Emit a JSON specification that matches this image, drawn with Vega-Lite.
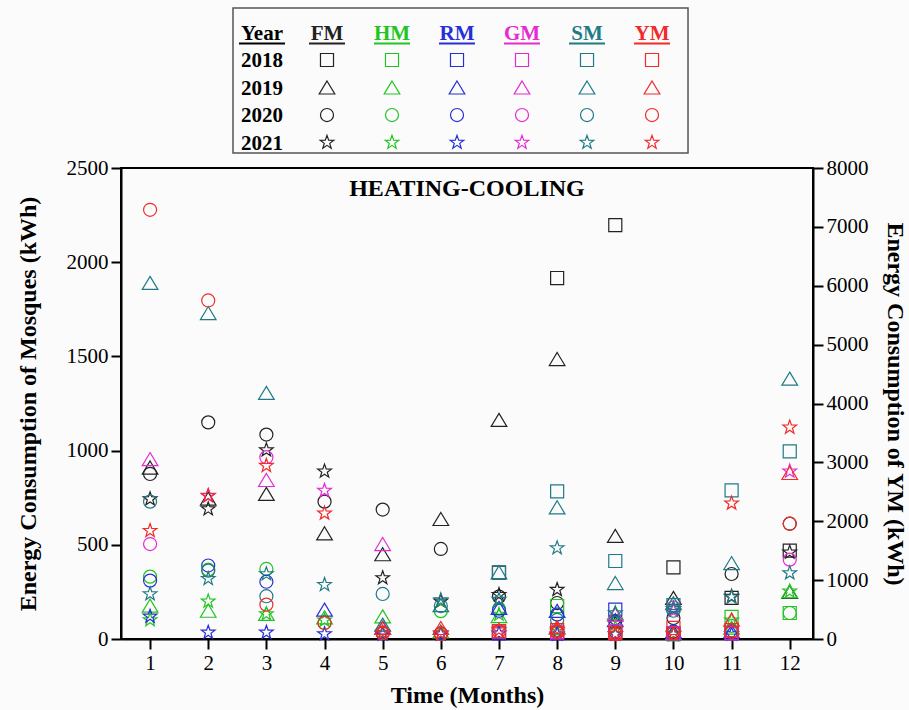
{
  "$schema": "https://vega.github.io/schema/vega-lite/v6.json",
  "background": "#fbfbfb",
  "padding": {"top": 6, "left": 15, "right": 4, "bottom": 2},
  "spacing": 1,
  "config": {
    "font": "Liberation Serif",
    "axis": {"grid": false, "labelFont": "Liberation Serif", "titleFont": "Liberation Serif", "labelFontSize": 21, "titleFontSize": 24, "titleFontWeight": "bold", "labelColor": "black", "titleColor": "black", "domainColor": "black", "domainWidth": 2, "tickColor": "black", "tickWidth": 2}
  },
  "data": {"values": [
    {"month":7,"mosque":"FM","year":"2018","kwh":352},{"month":8,"mosque":"FM","year":"2018","kwh":1916},{"month":9,"mosque":"FM","year":"2018","kwh":2197},{"month":10,"mosque":"FM","year":"2018","kwh":380},{"month":11,"mosque":"FM","year":"2018","kwh":218},{"month":12,"mosque":"FM","year":"2018","kwh":469},
    {"month":1,"mosque":"FM","year":"2019","kwh":910},{"month":2,"mosque":"FM","year":"2019","kwh":745},{"month":3,"mosque":"FM","year":"2019","kwh":770},{"month":4,"mosque":"FM","year":"2019","kwh":561},{"month":5,"mosque":"FM","year":"2019","kwh":450},{"month":6,"mosque":"FM","year":"2019","kwh":637},{"month":7,"mosque":"FM","year":"2019","kwh":1163},{"month":8,"mosque":"FM","year":"2019","kwh":1486},{"month":9,"mosque":"FM","year":"2019","kwh":547},{"month":10,"mosque":"FM","year":"2019","kwh":218},{"month":12,"mosque":"FM","year":"2019","kwh":250},
    {"month":1,"mosque":"FM","year":"2020","kwh":876},{"month":2,"mosque":"FM","year":"2020","kwh":1150},{"month":3,"mosque":"FM","year":"2020","kwh":1085},{"month":4,"mosque":"FM","year":"2020","kwh":729},{"month":5,"mosque":"FM","year":"2020","kwh":687},{"month":6,"mosque":"FM","year":"2020","kwh":478},{"month":7,"mosque":"FM","year":"2020","kwh":225},{"month":8,"mosque":"FM","year":"2020","kwh":191},{"month":9,"mosque":"FM","year":"2020","kwh":95},{"month":10,"mosque":"FM","year":"2020","kwh":111},{"month":11,"mosque":"FM","year":"2020","kwh":345},{"month":12,"mosque":"FM","year":"2020","kwh":612},
    {"month":1,"mosque":"FM","year":"2021","kwh":743},{"month":2,"mosque":"FM","year":"2021","kwh":690},{"month":3,"mosque":"FM","year":"2021","kwh":1003},{"month":4,"mosque":"FM","year":"2021","kwh":890},{"month":5,"mosque":"FM","year":"2021","kwh":324},{"month":6,"mosque":"FM","year":"2021","kwh":200},{"month":7,"mosque":"FM","year":"2021","kwh":235},{"month":8,"mosque":"FM","year":"2021","kwh":262},{"month":9,"mosque":"FM","year":"2021","kwh":85},{"month":10,"mosque":"FM","year":"2021","kwh":160},{"month":11,"mosque":"FM","year":"2021","kwh":225},{"month":12,"mosque":"FM","year":"2021","kwh":460},
    {"month":7,"mosque":"HM","year":"2018","kwh":40},{"month":8,"mosque":"HM","year":"2018","kwh":175},{"month":9,"mosque":"HM","year":"2018","kwh":40},{"month":10,"mosque":"HM","year":"2018","kwh":25},{"month":11,"mosque":"HM","year":"2018","kwh":117},{"month":12,"mosque":"HM","year":"2018","kwh":138},
    {"month":1,"mosque":"HM","year":"2019","kwh":177},{"month":2,"mosque":"HM","year":"2019","kwh":150},{"month":3,"mosque":"HM","year":"2019","kwh":133},{"month":4,"mosque":"HM","year":"2019","kwh":115},{"month":5,"mosque":"HM","year":"2019","kwh":120},{"month":6,"mosque":"HM","year":"2019","kwh":40},{"month":7,"mosque":"HM","year":"2019","kwh":122},{"month":8,"mosque":"HM","year":"2019","kwh":60},{"month":9,"mosque":"HM","year":"2019","kwh":138},{"month":10,"mosque":"HM","year":"2019","kwh":30},{"month":11,"mosque":"HM","year":"2019","kwh":60},{"month":12,"mosque":"HM","year":"2019","kwh":253},
    {"month":1,"mosque":"HM","year":"2020","kwh":331},{"month":2,"mosque":"HM","year":"2020","kwh":368},{"month":3,"mosque":"HM","year":"2020","kwh":372},{"month":4,"mosque":"HM","year":"2020","kwh":85},{"month":5,"mosque":"HM","year":"2020","kwh":35},{"month":6,"mosque":"HM","year":"2020","kwh":148},{"month":7,"mosque":"HM","year":"2020","kwh":160},{"month":8,"mosque":"HM","year":"2020","kwh":130},{"month":9,"mosque":"HM","year":"2020","kwh":40},{"month":10,"mosque":"HM","year":"2020","kwh":30},{"month":11,"mosque":"HM","year":"2020","kwh":70},{"month":12,"mosque":"HM","year":"2020","kwh":138},
    {"month":1,"mosque":"HM","year":"2021","kwh":101},{"month":2,"mosque":"HM","year":"2021","kwh":200},{"month":3,"mosque":"HM","year":"2021","kwh":133},{"month":4,"mosque":"HM","year":"2021","kwh":100},{"month":5,"mosque":"HM","year":"2021","kwh":30},{"month":6,"mosque":"HM","year":"2021","kwh":30},{"month":7,"mosque":"HM","year":"2021","kwh":130},{"month":8,"mosque":"HM","year":"2021","kwh":40},{"month":9,"mosque":"HM","year":"2021","kwh":60},{"month":10,"mosque":"HM","year":"2021","kwh":30},{"month":11,"mosque":"HM","year":"2021","kwh":100},{"month":12,"mosque":"HM","year":"2021","kwh":253},
    {"month":7,"mosque":"RM","year":"2018","kwh":30},{"month":8,"mosque":"RM","year":"2018","kwh":30},{"month":9,"mosque":"RM","year":"2018","kwh":156},{"month":10,"mosque":"RM","year":"2018","kwh":30},{"month":11,"mosque":"RM","year":"2018","kwh":30},
    {"month":4,"mosque":"RM","year":"2019","kwh":156},{"month":5,"mosque":"RM","year":"2019","kwh":60},{"month":7,"mosque":"RM","year":"2019","kwh":165},{"month":8,"mosque":"RM","year":"2019","kwh":149},{"month":9,"mosque":"RM","year":"2019","kwh":100},{"month":10,"mosque":"RM","year":"2019","kwh":40},{"month":11,"mosque":"RM","year":"2019","kwh":40},
    {"month":1,"mosque":"RM","year":"2020","kwh":310},{"month":2,"mosque":"RM","year":"2020","kwh":390},{"month":3,"mosque":"RM","year":"2020","kwh":304},{"month":5,"mosque":"RM","year":"2020","kwh":30},{"month":6,"mosque":"RM","year":"2020","kwh":30},{"month":7,"mosque":"RM","year":"2020","kwh":150},{"month":8,"mosque":"RM","year":"2020","kwh":130},{"month":9,"mosque":"RM","year":"2020","kwh":40},{"month":10,"mosque":"RM","year":"2020","kwh":40},{"month":11,"mosque":"RM","year":"2020","kwh":40},
    {"month":1,"mosque":"RM","year":"2021","kwh":120},{"month":2,"mosque":"RM","year":"2021","kwh":35},{"month":3,"mosque":"RM","year":"2021","kwh":35},{"month":4,"mosque":"RM","year":"2021","kwh":27},{"month":5,"mosque":"RM","year":"2021","kwh":25},{"month":6,"mosque":"RM","year":"2021","kwh":25},{"month":7,"mosque":"RM","year":"2021","kwh":30},{"month":8,"mosque":"RM","year":"2021","kwh":25},{"month":9,"mosque":"RM","year":"2021","kwh":25},{"month":10,"mosque":"RM","year":"2021","kwh":25},{"month":11,"mosque":"RM","year":"2021","kwh":26},
    {"month":7,"mosque":"GM","year":"2018","kwh":40},{"month":8,"mosque":"GM","year":"2018","kwh":35},{"month":9,"mosque":"GM","year":"2018","kwh":40},{"month":10,"mosque":"GM","year":"2018","kwh":30},{"month":11,"mosque":"GM","year":"2018","kwh":30},
    {"month":1,"mosque":"GM","year":"2019","kwh":955},{"month":3,"mosque":"GM","year":"2019","kwh":844},{"month":5,"mosque":"GM","year":"2019","kwh":504},{"month":9,"mosque":"GM","year":"2019","kwh":130},
    {"month":1,"mosque":"GM","year":"2020","kwh":504},{"month":3,"mosque":"GM","year":"2020","kwh":965},{"month":10,"mosque":"GM","year":"2020","kwh":168},{"month":12,"mosque":"GM","year":"2020","kwh":421},
    {"month":2,"mosque":"GM","year":"2021","kwh":761},{"month":4,"mosque":"GM","year":"2021","kwh":788},{"month":10,"mosque":"GM","year":"2021","kwh":150},{"month":12,"mosque":"GM","year":"2021","kwh":890},
    {"month":7,"mosque":"SM","year":"2018","kwh":354},{"month":8,"mosque":"SM","year":"2018","kwh":784},{"month":9,"mosque":"SM","year":"2018","kwh":414},{"month":10,"mosque":"SM","year":"2018","kwh":180},{"month":11,"mosque":"SM","year":"2018","kwh":789},{"month":12,"mosque":"SM","year":"2018","kwh":996},
    {"month":1,"mosque":"SM","year":"2019","kwh":1890},{"month":2,"mosque":"SM","year":"2019","kwh":1730},{"month":3,"mosque":"SM","year":"2019","kwh":1306},{"month":5,"mosque":"SM","year":"2019","kwh":76},{"month":6,"mosque":"SM","year":"2019","kwh":180},{"month":7,"mosque":"SM","year":"2019","kwh":354},{"month":8,"mosque":"SM","year":"2019","kwh":699},{"month":9,"mosque":"SM","year":"2019","kwh":297},{"month":10,"mosque":"SM","year":"2019","kwh":190},{"month":11,"mosque":"SM","year":"2019","kwh":403},{"month":12,"mosque":"SM","year":"2019","kwh":1382},
    {"month":1,"mosque":"SM","year":"2020","kwh":729},{"month":2,"mosque":"SM","year":"2020","kwh":363},{"month":3,"mosque":"SM","year":"2020","kwh":227},{"month":5,"mosque":"SM","year":"2020","kwh":239},{"month":6,"mosque":"SM","year":"2020","kwh":175},{"month":8,"mosque":"SM","year":"2020","kwh":101},{"month":10,"mosque":"SM","year":"2020","kwh":150},
    {"month":1,"mosque":"SM","year":"2021","kwh":239},{"month":2,"mosque":"SM","year":"2021","kwh":320},{"month":3,"mosque":"SM","year":"2021","kwh":345},{"month":4,"mosque":"SM","year":"2021","kwh":288},{"month":6,"mosque":"SM","year":"2021","kwh":207},{"month":7,"mosque":"SM","year":"2021","kwh":209},{"month":8,"mosque":"SM","year":"2021","kwh":483},{"month":9,"mosque":"SM","year":"2021","kwh":138},{"month":10,"mosque":"SM","year":"2021","kwh":160},{"month":11,"mosque":"SM","year":"2021","kwh":222},{"month":12,"mosque":"SM","year":"2021","kwh":350},
    {"month":7,"mosque":"YM","year":"2018","kwh":135},{"month":8,"mosque":"YM","year":"2018","kwh":150},{"month":9,"mosque":"YM","year":"2018","kwh":100},{"month":10,"mosque":"YM","year":"2018","kwh":187},{"month":11,"mosque":"YM","year":"2018","kwh":150},
    {"month":5,"mosque":"YM","year":"2019","kwh":187},{"month":6,"mosque":"YM","year":"2019","kwh":187},{"month":8,"mosque":"YM","year":"2019","kwh":200},{"month":11,"mosque":"YM","year":"2019","kwh":328},{"month":12,"mosque":"YM","year":"2019","kwh":2820},
    {"month":1,"mosque":"YM","year":"2020","kwh":7290},{"month":2,"mosque":"YM","year":"2020","kwh":5750},{"month":3,"mosque":"YM","year":"2020","kwh":584},{"month":4,"mosque":"YM","year":"2020","kwh":272},{"month":5,"mosque":"YM","year":"2020","kwh":100},{"month":6,"mosque":"YM","year":"2020","kwh":85},{"month":7,"mosque":"YM","year":"2020","kwh":130},{"month":8,"mosque":"YM","year":"2020","kwh":120},{"month":9,"mosque":"YM","year":"2020","kwh":80},{"month":10,"mosque":"YM","year":"2020","kwh":100},{"month":11,"mosque":"YM","year":"2020","kwh":120},{"month":12,"mosque":"YM","year":"2020","kwh":1958},
    {"month":1,"mosque":"YM","year":"2021","kwh":1840},{"month":2,"mosque":"YM","year":"2021","kwh":2430},{"month":3,"mosque":"YM","year":"2021","kwh":2945},{"month":4,"mosque":"YM","year":"2021","kwh":2135},{"month":5,"mosque":"YM","year":"2021","kwh":110},{"month":6,"mosque":"YM","year":"2021","kwh":100},{"month":7,"mosque":"YM","year":"2021","kwh":150},{"month":8,"mosque":"YM","year":"2021","kwh":160},{"month":9,"mosque":"YM","year":"2021","kwh":90},{"month":10,"mosque":"YM","year":"2021","kwh":80},{"month":11,"mosque":"YM","year":"2021","kwh":2305},{"month":12,"mosque":"YM","year":"2021","kwh":3595}
  ]},
  "vconcat": [
    {
      "width": 542,
      "height": 145,
      "view": {"stroke": "#fbfbfb"},
      "encoding": {
        "x": {"field": "mosque", "type": "nominal", "scale": {"type": "point", "domain": [" ", "  ", "Year","FM","HM","RM","GM","SM","YM"], "padding": 0.169}, "axis": null},
        "y": {"field": "year", "type": "nominal", "scale": {"type": "point", "domain": ["head","2018","2019","2020","2021"], "padding": 0.636}, "axis": null}
      },
      "layer": [
        {
          "transform": [{"aggregate": [{"op": "count", "as": "n"}]}],
          "mark": {"type": "rect", "filled": false, "color": "#555555", "strokeWidth": 1.5, "xOffset": -29, "x2Offset": 36, "yOffset": -17.5, "y2Offset": 17.5},
          "encoding": {"x": {"datum": "Year"}, "x2": {"datum": "YM"}, "y": {"datum": "head"}, "y2": {"datum": "2021"}}
        },
        {
          "transform": [{"aggregate": [{"op": "count", "as": "n"}], "groupby": ["mosque", "year"]}],
          "mark": {"type": "point", "filled": false, "size": 170, "strokeWidth": 1.2, "opacity": 1, "yOffset": 7},
          "encoding": {
            "shape": {"field": "year", "type": "nominal", "scale": {"domain": ["2018","2019","2020","2021"], "range": ["square","M0,-1L1.2,1L-1.2,1Z","circle","M0,-1.1L0.259,-0.356L1.046,-0.34L0.418,0.136L0.647,0.89L0,0.44L-0.647,0.89L-0.418,0.136L-1.046,-0.34L-0.259,-0.356Z"]}, "legend": null},
            "color": {"field": "mosque", "type": "nominal", "scale": {"domain": ["FM","HM","RM","GM","SM","YM"], "range": ["#222222","#22c422","#2630d6","#e62ad2","#1f7a86","#f22a2a"]}, "legend": null}
          }
        },
        {
          "transform": [{"aggregate": [{"op": "count", "as": "n"}], "groupby": ["year"]}],
          "mark": {"type": "text", "font": "Liberation Serif", "fontSize": 21, "fontWeight": "bold", "color": "black", "baseline": "middle", "yOffset": 8},
          "encoding": {"x": {"datum": "Year"}, "text": {"field": "year"}}
        },
        {
          "transform": [{"aggregate": [{"op": "count", "as": "n"}], "groupby": ["mosque"]}],
          "mark": {"type": "text", "font": "Liberation Serif", "fontSize": 21, "fontWeight": "bold", "baseline": "alphabetic", "yOffset": 15},
          "encoding": {
            "y": {"datum": "head"},
            "text": {"field": "mosque"},
            "color": {"field": "mosque", "type": "nominal", "legend": null}
          }
        },
        {
          "transform": [{"aggregate": [{"op": "count", "as": "n"}], "groupby": ["mosque"]}],
          "mark": {"type": "tick", "orient": "horizontal", "size": 36, "thickness": 2, "yOffset": 18, "opacity": 1},
          "encoding": {
            "y": {"datum": "head"},
            "color": {"field": "mosque", "type": "nominal", "legend": null}
          }
        },
        {
          "transform": [{"aggregate": [{"op": "count", "as": "n"}]}],
          "mark": {"type": "text", "text": "Year", "font": "Liberation Serif", "fontSize": 21, "fontWeight": "bold", "color": "black", "baseline": "alphabetic", "yOffset": 15},
          "encoding": {"x": {"datum": "Year"}, "y": {"datum": "head"}}
        },
        {
          "transform": [{"aggregate": [{"op": "count", "as": "n"}]}],
          "mark": {"type": "tick", "orient": "horizontal", "size": 46, "thickness": 2, "color": "black", "yOffset": 18, "opacity": 1},
          "encoding": {"x": {"datum": "Year"}, "y": {"datum": "head"}}
        }
      ]
    },
    {
      "width": 692,
      "height": 471,
      "view": {"stroke": "black", "strokeWidth": 2},
      "title": {"text": "HEATING-COOLING", "font": "Liberation Serif", "fontSize": 24, "fontWeight": "bold", "color": "black", "anchor": "middle", "offset": -44},
      "encoding": {
        "x": {"field": "month", "type": "quantitative", "scale": {"domain": [0.5, 12.4], "nice": false, "zero": false},
              "axis": {"values": [1,2,3,4,5,6,7,8,9,10,11,12], "title": "Time (Months)", "tickSize": 10, "labelPadding": 3, "titlePadding": 10}}
      },
      "layer": [
        {
          "transform": [{"filter": "datum.mosque != 'YM'"}],
          "mark": {"type": "point", "filled": false, "size": 170, "strokeWidth": 1.2, "opacity": 1},
          "encoding": {
            "y": {"field": "kwh", "type": "quantitative", "scale": {"domain": [0, 2500], "nice": false},
                  "axis": {"values": [0,500,1000,1500,2000,2500], "format": "d", "tickSize": 10, "labelPadding": 3, "title": "Energy Consumption of Mosques (kWh)", "titlePadding": 26}},
            "shape": {"field": "year", "type": "nominal", "legend": null},
            "color": {"field": "mosque", "type": "nominal", "legend": null}
          }
        },
        {
          "transform": [{"filter": "datum.mosque == 'YM'"}],
          "mark": {"type": "point", "filled": false, "size": 170, "strokeWidth": 1.2, "opacity": 1},
          "encoding": {
            "y": {"field": "kwh", "type": "quantitative", "scale": {"domain": [0, 8000], "nice": false},
                  "axis": {"orient": "right", "values": [0,1000,2000,3000,4000,5000,6000,7000,8000], "format": "d", "tickSize": 10, "labelPadding": 3, "title": "Energy Consumption of YM (kWh)", "titlePadding": 14}},
            "shape": {"field": "year", "type": "nominal", "legend": null},
            "color": {"field": "mosque", "type": "nominal", "legend": null}
          }
        }
      ],
      "resolve": {"scale": {"y": "independent"}}
    }
  ]
}
